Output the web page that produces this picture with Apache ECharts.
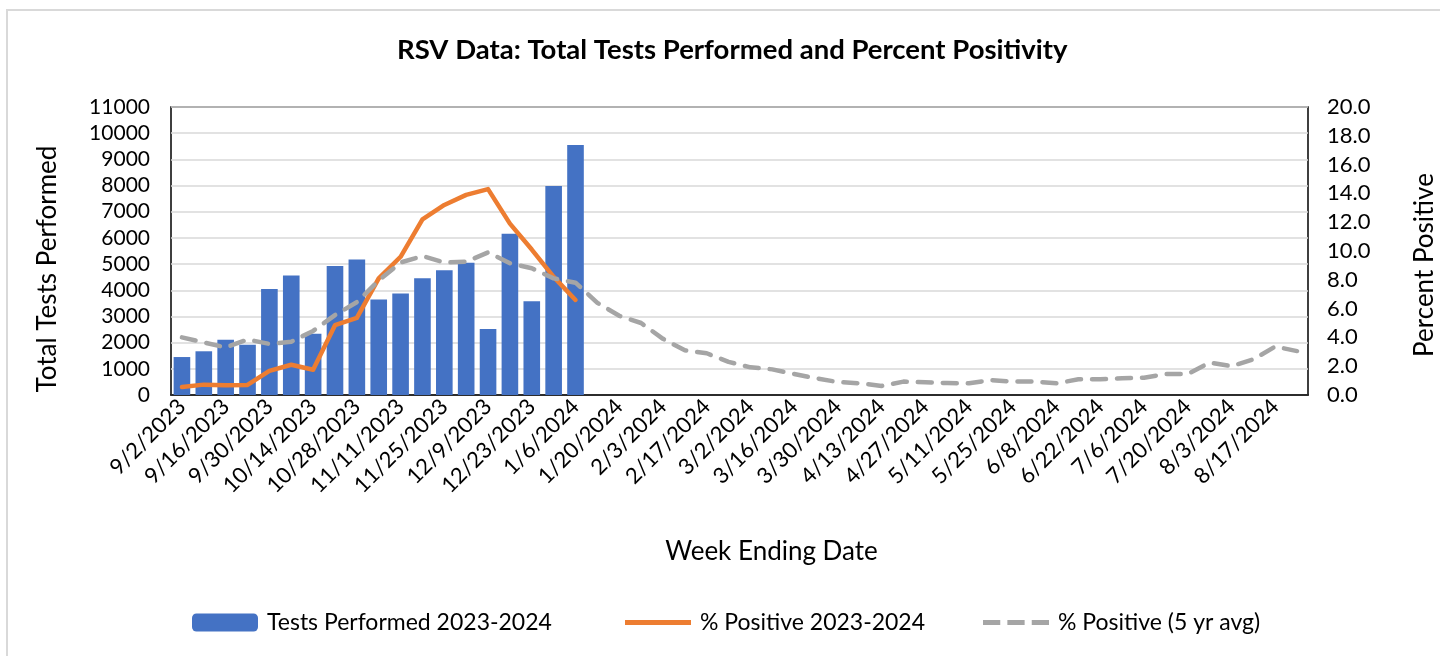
<!DOCTYPE html>
<html>
<head>
<meta charset="utf-8">
<script src="https://cdn.jsdelivr.net/npm/echarts@6/dist/echarts.min.js"></script>
<style>
    html, body { margin: 0; padding: 0; background: #fff; }
    #frame { position: absolute; left: 6px; top: 9px; width: 1440px; height: 660px;
             border-left: 2px solid #d9d9d9; border-top: 2px solid #d9d9d9; }
    #main { position: absolute; left: 0; top: 0; width: 1440px; height: 656px; }
</style>
</head>
<body>
<div id="frame"></div>
<div id="main"></div>
<script>
//周末日期
var weeks = ['9/2/2023','9/9/2023','9/16/2023','9/23/2023','9/30/2023','10/7/2023','10/14/2023',
    '10/21/2023','10/28/2023','11/4/2023','11/11/2023','11/18/2023','11/25/2023','12/2/2023',
    '12/9/2023','12/16/2023','12/23/2023','12/30/2023','1/6/2024','1/13/2024','1/20/2024',
    '1/27/2024','2/3/2024','2/10/2024','2/17/2024','2/24/2024','3/2/2024','3/9/2024','3/16/2024',
    '3/23/2024','3/30/2024','4/6/2024','4/13/2024','4/20/2024','4/27/2024','5/4/2024','5/11/2024',
    '5/18/2024','5/25/2024','6/1/2024','6/8/2024','6/15/2024','6/22/2024','6/29/2024','7/6/2024',
    '7/13/2024','7/20/2024','7/27/2024','8/3/2024','8/10/2024','8/17/2024','8/24/2024'];

//检测数
var tests2324 = [1450,1670,2110,1920,4050,4560,2340,4930,5180,3650,3880,4460,4760,5050,2520,6160,3580,7980,9550];

//阳性率
var pos2324 = [0.55,0.72,0.68,0.7,1.67,2.1,1.75,4.85,5.35,8.1,9.6,12.2,13.2,13.9,14.3,11.9,10.1,8.2,6.6];

//五年平均
var pos5yr = [4.0,3.65,3.3,3.85,3.55,3.7,4.45,5.55,6.45,7.95,9.2,9.65,9.2,9.25,9.9,9.15,8.8,8.1,7.8,
    6.4,5.5,5.0,3.9,3.1,2.9,2.3,1.92,1.78,1.46,1.16,0.9,0.81,0.63,0.93,0.88,0.83,0.81,1.04,0.93,0.93,
    0.81,1.09,1.09,1.16,1.2,1.46,1.46,2.25,2.0,2.48,3.36,3.05];

var font = 'Lato, "Open Sans", sans-serif';

function legendOf(name, left, icon) {
    var item = { name: name };
    if (icon) item.icon = icon;
    return {
        data: [item],
        left: left,
        top: 606,
        itemWidth: 66,
        itemHeight: 18,
        textStyle: { fontFamily: font, fontSize: 23, color: '#000', padding: [0, 0, 0, 4] }
    };
}

var myChart = echarts.init(document.getElementById('main'));
var option = {
    animation: false,
    textStyle: { fontFamily: font, color: '#000' },
    title: {
        text: 'RSV Data: Total Tests Performed and Percent Positivity',
        left: 392,
        top: 31,
        textStyle: { fontFamily: font, fontSize: 27.5, fontWeight: 'bold', color: '#000' }
    },
    legend: [
        legendOf('Tests Performed 2023-2024', 187),
        legendOf('% Positive 2023-2024', 620, 'path://M0,0h66v5h-66z'),
        legendOf('% Positive (5 yr avg)', 978, 'path://M0,0h17v5h-17z M24,0h17v5h-17z M48,0h17v5h-17z')
    ],
    grid: {
        show: true,
        left: 171,
        top: 107,
        right: 132,
        bottom: 261,
        borderColor: '#000',
        borderWidth: 1.5,
        containLabel: false,
        outerBoundsMode: 'none'
    },
    xAxis: {
        type: 'category',
        data: weeks,
        name: 'Week Ending Date',
        nameLocation: 'middle',
        nameGap: 144,
        nameTextStyle: { fontFamily: font, fontSize: 26, color: '#000', padding: [0, 0, 0, 64] },
        axisLine: { lineStyle: { color: '#000', width: 1.5 } },
        axisTick: { show: false },
        axisLabel: {
            interval: 1,
            rotate: 45,
            margin: 8,
            fontFamily: font,
            fontSize: 22,
            color: '#000'
        }
    },
    yAxis: [
        {
            type: 'value',
            min: 0,
            max: 11000,
            interval: 1000,
            name: 'Total Tests Performed',
            nameLocation: 'middle',
            nameRotate: 90,
            nameGap: 110,
            nameTextStyle: { fontFamily: font, fontSize: 26, color: '#000', padding: [0, 36, 0, 0] },
            axisLine: { show: false },
            axisTick: { show: false },
            axisLabel: {
                fontFamily: font, fontSize: 21, color: '#000', margin: 21,
                formatter: function (v) { return String(v); }
            },
            splitLine: { lineStyle: { color: '#d9d9d9', width: 1.5 } }
        },
        {
            type: 'value',
            min: 0,
            max: 20,
            interval: 2,
            position: 'right',
            name: 'Percent Positive',
            nameLocation: 'middle',
            nameRotate: 90,
            nameGap: 104,
            nameTextStyle: { fontFamily: font, fontSize: 26, color: '#000', padding: [0, 28, 0, 0] },
            axisLine: { show: false },
            axisTick: { show: false },
            axisLabel: {
                fontFamily: font, fontSize: 22, color: '#000', margin: 19,
                formatter: function (v) { return v.toFixed(1); }
            },
            splitLine: { show: false }
        }
    ],
    series: [
        {
            name: 'Tests Performed 2023-2024',
            type: 'bar',
            data: tests2324,
            barWidth: '76%',
            itemStyle: { color: '#4472C4' }
        },
        {
            name: '% Positive 2023-2024',
            type: 'line',
            yAxisIndex: 1,
            data: pos2324,
            symbol: 'none',
            itemStyle: { color: '#ED7D31' },
            lineStyle: { color: '#ED7D31', width: 4.5, cap: 'round', join: 'round' }
        },
        {
            name: '% Positive (5 yr avg)',
            type: 'line',
            yAxisIndex: 1,
            data: pos5yr,
            symbol: 'none',
            itemStyle: { color: '#A5A5A5' },
            lineStyle: { color: '#A5A5A5', width: 4.5, type: [14, 11], cap: 'round', join: 'round' }
        }
    ]
};
myChart.setOption(option);
</script>
</body>
</html>
